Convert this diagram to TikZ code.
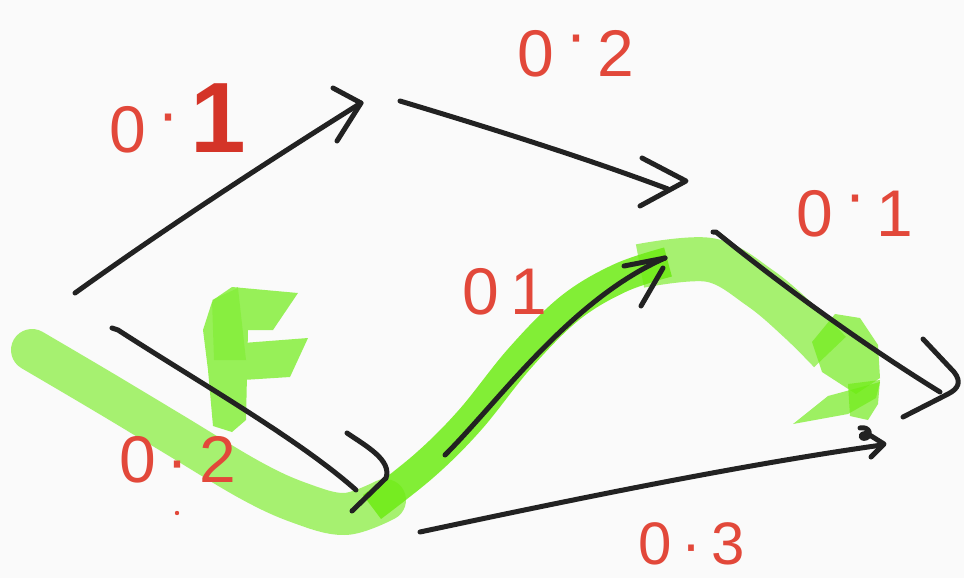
\documentclass[tikz,border=0pt]{standalone}
\usepackage{fontspec}
\setmainfont{Liberation Sans}
\definecolor{inkc}{RGB}{34,34,34}
\definecolor{redc}{RGB}{226,72,58}
\definecolor{scrib}{RGB}{212,52,40}
\definecolor{hlc}{RGB}{110,236,20}
\definecolor{bgc}{RGB}{250,250,250}
\begin{document}
\begin{tikzpicture}[x=1pt,y=-1pt,
  ink/.style={draw=inkc, line width=5pt, line cap=round, line join=round},
  hl/.style={draw=hlc, line cap=round, line join=round, opacity=0.6},
  hlb/.style={draw=hlc, line cap=round, line join=round, opacity=0.85},
  hlf/.style={fill=hlc, opacity=0.66},
  lbl/.style={text=redc, font=\fontsize{66}{66}\selectfont, inner sep=0pt}]
\fill[bgc] (0,0) rectangle (964,578);
\useasboundingbox (0,0) rectangle (964,578);

% ---------- green highlighter path ----------
\draw[hl, line width=42pt] plot[smooth, tension=0.6] coordinates
  {(32,350) (100,390) (170,432) (250,480) (300,503) (345,514) (385,500)};
\draw[hlb, line width=30pt, line cap=butt] plot[smooth, tension=0.6] coordinates
  {(372,507) (425,465) (470,420) (520,358) (570,308) (620,278) (668,262)};
\draw[hl, line width=44pt, line cap=butt] plot[smooth, tension=0.6] coordinates
  {(640,266) (710,260) (760,288) (800,322) (830,352)};
% green arrow head
\fill[hlf] (835,314) -- (860,318) -- (878,345) -- (880,378) -- (856,394)
  -- (822,372) -- (812,342) -- cycle;
\fill[hlf] (793,424) -- (828,396) -- (880,382) -- (876,398) -- (848,414) -- cycle;
\fill[hlf] (848,384) -- (880,380) -- (878,404) -- (868,420) -- (850,416) -- cycle;
% green F
\begin{scope}[transparency group, opacity=0.7]
\fill[hlc] (203,330) -- (212,302) -- (238,287) -- (248,330) -- (246,420)
  -- (232,432) -- (213,426) -- (208,370) -- cycle;
\fill[hlc] (213,300) -- (232,287) -- (298,293) -- (273,330) -- (207,330) -- cycle;
\fill[hlc] (243,343) -- (308,338) -- (290,377) -- (243,380) -- cycle;
\end{scope}
\fill[hlc, opacity=0.35] (212,300) -- (238,288) -- (246,360) -- (214,360) -- cycle;

% ---------- coordinates ----------
\coordinate (a1s) at (75,293);   \coordinate (a1e) at (361,103);
\coordinate (a2s) at (400,101);  \coordinate (a2e) at (686,181);
\coordinate (a3s) at (112,328);  \coordinate (a3e) at (356,490);
\coordinate (a4s) at (445,455);  \coordinate (a4e) at (665,258);
\coordinate (a5s) at (713,232);  \coordinate (a5e) at (940,392);
\coordinate (a6s) at (420,532);  \coordinate (a6e) at (882,445);

% ---------- black arrows ----------
% arrow 1
\draw[ink] (a1s) .. controls (170,225) and (270,160) .. (a1e);
\draw[ink] (333,88) -- (a1e) -- (337,141);
% arrow 2
\draw[ink] (a2s) .. controls (480,125) and (580,156) .. (668,189);
\draw[ink] (642,158) -- (a2e) -- (640,206);
% arrow 3
\draw[ink] (a3s) -- (118,330) .. controls (200,383) and (300,440) .. (a3e);
\draw[ink] (347,433) .. controls (366,446) and (392,460) .. (386,478) -- (352,511);
% arrow 4 (curved)
\draw[ink] (a4s) .. controls (500,400) and (570,300) .. (a4e);
\draw[ink] (a4e) -- (624,266);
\draw[ink] (663,268) -- (641,306);
% arrow 5
\draw[ink] (a5s) -- (716,232) .. controls (800,300) and (880,355) .. (a5e);
\draw[ink] (923,339) -- (954,372) .. controls (962,382) and (958,389) .. (948,394) -- (903,417);
% arrow 6
\draw[ink] (a6s) .. controls (570,500) and (740,465) .. (a6e);
\draw[ink] (860,428) .. controls (870,426) and (872,436) .. (866,438)
  .. controls (860,440) and (858,432) .. (868,434) -- (884,444) -- (871,457);

% ---------- labels ----------
\node[lbl] (l1) at (178,118) {0\,\raisebox{0.25em}{·}\,{\color{scrib}\fontsize{100}{100}\selectfont\bfseries 1}};
\node[lbl] (l2) at (576,54) {0\,\raisebox{0.3em}{·}\,2};
\node[lbl] (l3) at (855,214) {0\,\raisebox{0.3em}{·}\,1};
\node[lbl] (l4) at (505,292) {0\hspace{12pt}1};
\node[lbl] (l5) at (178,460) {0\,·\,2};
\node[lbl, font=\fontsize{60}{60}\selectfont] (l6) at (692,544) {0\,·\,3};
\fill[redc] (177,513) circle (2.2);
\end{tikzpicture}
\end{document}
